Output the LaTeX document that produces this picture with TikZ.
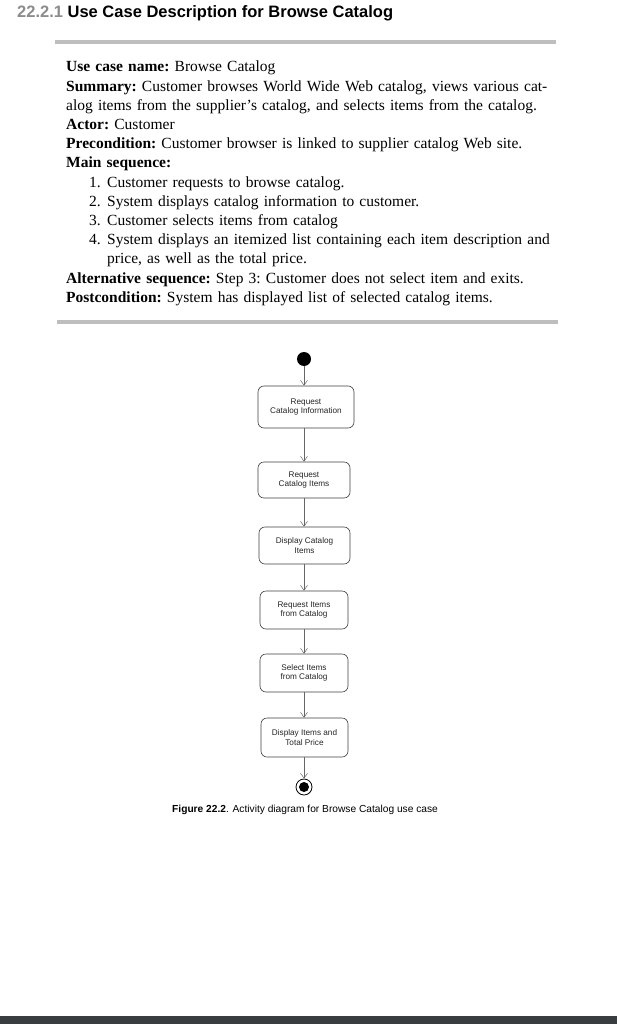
\documentclass[tikz,border=0pt]{standalone}
\usepackage{fontspec}
\setmainfont{Liberation Serif}
\setsansfont{Liberation Sans}
\usetikzlibrary{arrows.meta}
\definecolor{rulegray}{RGB}{190,190,190}
\definecolor{numgray}{RGB}{140,140,140}
\definecolor{bargray}{RGB}{58,61,64}

\begin{document}
\begin{tikzpicture}[x=1pt, y=1pt,
  activity/.style={draw=black!75, rounded corners=6pt, line width=0.6pt, minimum width=88pt, minimum height=38pt, align=center, inner sep=1pt, font=\sffamily\fontsize{8.2}{9.6}\selectfont, text=black!85},
  flow/.style={-{Straight Barb[length=5pt,width=7pt]}, draw=black!60, line width=0.5pt},
  graybar/.style={rulegray, line width=4pt}]
			\useasboundingbox (0,0) rectangle (617,-1024);
			\fill[white] (0,0) rectangle (617,-1024);

			% Heading and rules
			\node[anchor=base west, inner sep=0, font=\sffamily\bfseries\fontsize{16.5}{20}\selectfont] (title) at (17,-18) {\textcolor{numgray}{22.2.1} Use Case Description for Browse Catalog};
			\draw[graybar] (55,-42) -- (556,-42);
			\draw[graybar] (57,-322) -- (558,-322);

			% Use case text
			\node[anchor=north west, inner sep=0, text width=510pt, align=left, font=\frenchspacing\fontsize{15.5}{19.2}\selectfont] (usecase) at (66,-61) {%
				\textbf{Use case name:} Browse Catalog\\
				\textbf{Summary:} Customer browses World Wide Web catalog, views various cat-\\
				alog items from the supplier’s catalog, and selects items from the catalog.\\
				\textbf{Actor:} Customer\\
				\textbf{Precondition:} Customer browser is linked to supplier catalog Web site.\\
				\textbf{Main sequence:}\\
				\hspace*{23pt}\makebox[18pt][l]{1.}Customer requests to browse catalog.\\
				\hspace*{23pt}\makebox[18pt][l]{2.}System displays catalog information to customer.\\
				\hspace*{23pt}\makebox[18pt][l]{3.}Customer selects items from catalog\\
				\hspace*{23pt}\makebox[18pt][l]{4.}System displays an itemized list containing each item description and\\
				\hspace*{41pt}price, as well as the total price.\\
				\textbf{Alternative sequence:} Step 3: Customer does not select item and exits.\\
				\textbf{Postcondition:} System has displayed list of selected catalog items.};

			% Activity nodes
			\node[circle, fill=black, minimum size=14pt, inner sep=0] (start) at (304,-359) {};
			\node[activity, minimum width=96pt, minimum height=42pt] (reqinfo) at (306,-407) {Request\\Catalog Information};
			\node[activity, minimum width=92pt, minimum height=36pt] (reqitems) at (304,-480) {Request\\Catalog Items};
			\node[activity, minimum width=91pt, minimum height=37pt] (showitems) at (304.5,-545.5) {Display Catalog\\Items};
			\node[activity] (reqfrom) at (304,-610) {Request Items\\from Catalog};
			\node[activity] (select) at (304,-673) {Select Items\\from Catalog};
			\node[activity, minimum width=87pt, minimum height=39pt] (total) at (304.5,-737.5) {Display Items and\\Total Price};
			\node[circle, draw=black, line width=0.8pt, minimum size=16pt, inner sep=0] (stop) at (304,-787) {};
			\fill[black] (stop.center) circle (5pt);

			% Flows
			\draw[flow] (start) -- (start |- reqinfo.north);
			\draw[flow] (reqinfo.south -| reqitems) -- (reqitems);
			\draw[flow] (reqitems) -- (reqitems |- showitems.north);
			\draw[flow] (showitems.south -| reqfrom) -- (reqfrom);
			\draw[flow] (reqfrom) -- (select);
			\draw[flow] (select) -- (select |- total.north);
			\draw[flow] (total.south -| stop) -- (stop);

			% Caption
			\node[anchor=base west, inner sep=0, font=\sffamily\fontsize{10.2}{12}\selectfont] (caption) at (172,-812) {\textbf{Figure 22.2}. Activity diagram for Browse Catalog use case};

			% Bottom bar
			\fill[bargray] (0,-1016) rectangle (617,-1024);
		\end{tikzpicture}
\end{document}
